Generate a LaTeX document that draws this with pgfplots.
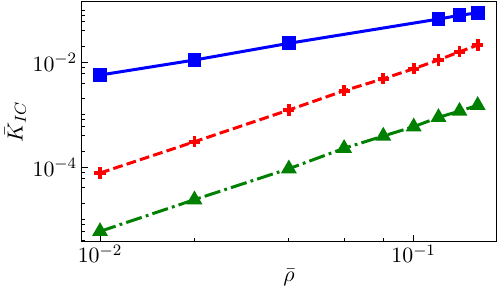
\documentclass[border=0pt]{standalone}
\usepackage{pgfplots}
\pgfplotsset{compat=1.18}
\definecolor{mblue}{RGB}{0,0,255}
\definecolor{mred}{RGB}{255,0,0}
\definecolor{mgreen}{RGB}{0,128,0}
\begin{document}
\begin{tikzpicture}
\begin{axis}[
  scale only axis, width=207.3bp, height=119.8bp,
  xmode=log, ymode=log,
  xmin=0.00874, xmax=0.1834, ymin=3.81e-6, ymax=0.144,
  font=\fontsize{10.95}{13}\selectfont,
  xtick={0.01,0.1}, ytick={1e-4,1e-2},
  minor xtick={0.02,0.04,0.06,0.08},
  minor ytick={4e-6,6e-6,8e-6,1e-5,2e-5,4e-5,6e-5,8e-5,2e-4,4e-4,6e-4,8e-4,1e-3,2e-3,4e-3,6e-3,8e-3,2e-2,4e-2,6e-2,8e-2,1e-1},
  tick align=inside, xtick pos=left, ytick pos=left,
  major tick length=3bp, minor tick length=1.75bp,
  axis line style={line width=0.45bp, black},
  tick style={line width=0.45bp, black},
  xticklabel style={yshift=1.8bp},
  yticklabel style={xshift=1.2bp},
  xlabel={$\bar{\rho}$}, ylabel={$\bar{K}_{IC}$},
  xlabel style={at={(axis description cs:0.5,-0.149)}, anchor=center},
  ylabel style={at={(axis description cs:-0.16,0.5)}, anchor=center},
  every axis plot/.append style={line width=1.5bp},
]
\coordinate (bl) at (rel axis cs:0,0);
\coordinate (tr) at (rel axis cs:1,1);
\addplot[mblue, solid, mark=square*, mark size=2.7bp, mark options={solid}] coordinates {
 (0.01,5.72e-3) (0.02,1.107e-2) (0.04,2.31e-2) (0.12,6.71e-2) (0.14,7.9e-2) (0.16,8.86e-2)
};
\addplot[mred, dash pattern=on 4.9bp off 2.1bp, mark=+, mark size=2.8bp, mark options={solid, line width=1.9bp}] coordinates {
 (0.01,7.68e-5) (0.02,3.04e-4) (0.04,1.23e-3) (0.06,2.87e-3) (0.08,4.86e-3) (0.1,7.55e-3) (0.12,1.11e-2) (0.14,1.59e-2) (0.16,2.14e-2)
};
\addplot[mgreen, dash pattern=on 8.2bp off 2.1bp on 1.4bp off 2.1bp, mark=triangle*, mark size=3.1bp, mark options={solid}] coordinates {
 (0.01,5.9e-6) (0.02,2.38e-5) (0.04,9.28e-5) (0.06,2.28e-4) (0.08,3.91e-4) (0.1,5.89e-4) (0.12,8.89e-4) (0.14,1.17e-3) (0.16,1.51e-3)
};
\end{axis}
\pgfresetboundingbox
\path ([xshift=-40.85bp,yshift=-28.35bp]bl) rectangle ([xshift=0.85bp,yshift=0.85bp]tr);
\end{tikzpicture}
\end{document}
